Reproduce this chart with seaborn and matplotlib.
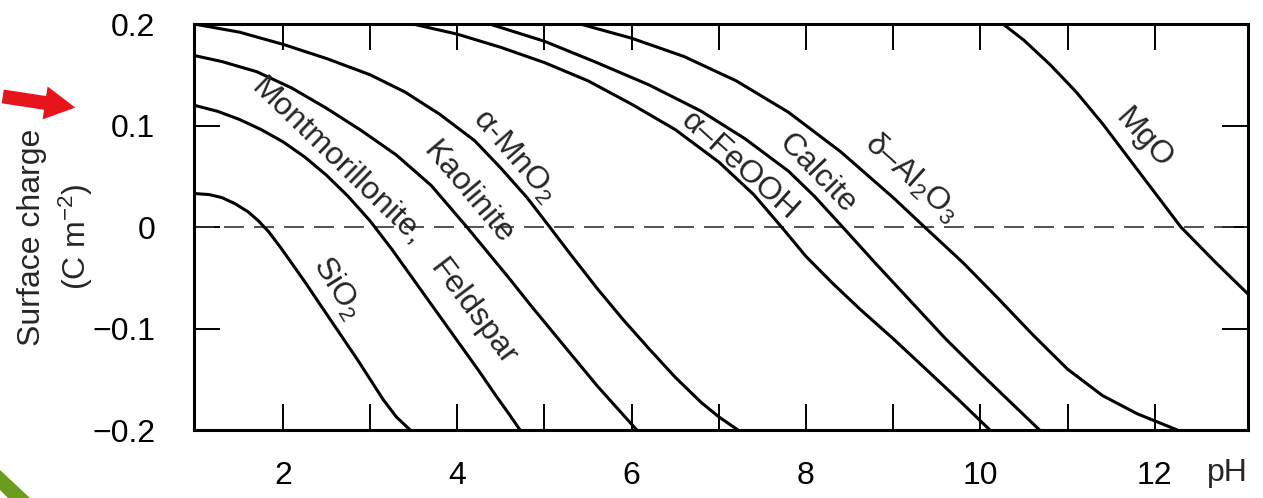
import numpy as np
import pandas as pd
import matplotlib
matplotlib.use("Agg")
import matplotlib.pyplot as plt
import seaborn as sns
from matplotlib.patches import FancyArrowPatch, Polygon
from matplotlib.transforms import IdentityTransform

# ----------------------------------------------------------
# Data (pH, surface charge in C m^-2)
# ----------------------------------------------------------
sio2_ph = [0.98, 1.15, 1.30, 1.45, 1.60, 1.72, 1.84, 1.98, 2.12, 2.26, 2.40, 2.55,
           2.70, 2.85, 3.00, 3.15, 3.30, 3.46]
sio2_q = [0.033, 0.032, 0.029, 0.023, 0.015, 0.006, -0.005, -0.021, -0.038, -0.055,
          -0.073, -0.092, -0.111, -0.130, -0.150, -0.170, -0.187, -0.200]

mont_ph = [0.98, 1.25, 1.50, 1.75, 2.00, 2.25, 2.50, 2.75, 3.00, 3.25, 3.50, 3.75,
           4.00, 4.25, 4.45, 4.60, 4.72]
mont_q = [0.120, 0.114, 0.106, 0.096, 0.084, 0.069, 0.051, 0.030, 0.006, -0.022,
          -0.052, -0.082, -0.112, -0.142, -0.167, -0.185, -0.200]

kaol_ph = [0.98, 1.30, 1.70, 2.10, 2.50, 2.90, 3.30, 3.70, 3.90, 4.11, 4.35, 4.60,
           4.85, 5.10, 5.35, 5.60, 5.85, 6.06]
kaol_q = [0.169, 0.163, 0.153, 0.137, 0.117, 0.095, 0.071, 0.041, 0.021, 0.0, -0.025,
          -0.051, -0.078, -0.104, -0.130, -0.156, -0.180, -0.200]

mno2_ph = [0.98, 1.50, 2.00, 2.50, 3.00, 3.40, 3.80, 4.20, 4.50, 4.80, 5.06, 5.30,
           5.60, 5.90, 6.20, 6.50, 6.80, 7.00, 7.22]
mno2_q = [0.200, 0.192, 0.180, 0.166, 0.150, 0.133, 0.111, 0.085, 0.058, 0.029, 0.0,
          -0.027, -0.060, -0.091, -0.120, -0.148, -0.173, -0.187, -0.200]

feooh_ph = [3.49, 4.00, 4.50, 5.00, 5.50, 6.00, 6.50, 7.00, 7.40, 7.72, 8.00, 8.30,
            8.62, 9.00, 9.40, 9.76, 10.11]
feooh_q = [0.200, 0.190, 0.177, 0.162, 0.144, 0.121, 0.096, 0.064, 0.032, 0.0, -0.029,
           -0.055, -0.081, -0.110, -0.142, -0.171, -0.200]

calcite_ph = [4.37, 5.00, 5.60, 6.20, 6.80, 7.30, 7.80, 8.10, 8.42, 8.80, 9.20, 9.60,
              10.00, 10.40, 10.68]
calcite_q = [0.200, 0.183, 0.162, 0.140, 0.114, 0.087, 0.055, 0.030, 0.0, -0.036,
             -0.073, -0.110, -0.144, -0.177, -0.200]

al2o3_ph = [5.41, 6.00, 6.60, 7.20, 7.80, 8.40, 9.00, 9.36, 9.80, 10.20, 10.60,
            11.00, 11.40, 11.80, 12.26]
al2o3_q = [0.200, 0.186, 0.168, 0.144, 0.113, 0.074, 0.029, 0.0, -0.035, -0.070,
           -0.106, -0.140, -0.166, -0.184, -0.200]

mgo_ph = [10.26, 10.50, 10.80, 11.10, 11.40, 11.70, 12.00, 12.30, 12.70, 13.07]
mgo_q = [0.200, 0.184, 0.160, 0.133, 0.102, 0.068, 0.034, 0.0, -0.035, -0.066]

x_ticks = list(range(2, 13))
x_tick_labels = ["2", "", "4", "", "6", "", "8", "", "10", "", "12"]
y_ticks = [-0.2, -0.1, 0.0, 0.1, 0.2]
y_tick_labels = ["\u22120.2", "\u22120.1", "0", "0.1", "0.2"]

curves = {
    "SiO2": (sio2_ph, sio2_q),
    "Montmorillonite": (mont_ph, mont_q),
    "Kaolinite": (kaol_ph, kaol_q),
    "MnO2": (mno2_ph, mno2_q),
    "FeOOH": (feooh_ph, feooh_q),
    "Calcite": (calcite_ph, calcite_q),
    "Al2O3": (al2o3_ph, al2o3_q),
    "MgO": (mgo_ph, mgo_q),
}

rows = []
for name, (ph, q) in curves.items():
    for a, b in zip(ph, q):
        rows.append({"mineral": name, "pH": a, "charge": b})
df = pd.DataFrame(rows)

# ----------------------------------------------------------
# Plot
# ----------------------------------------------------------
sns.set_theme(style="white")
plt.rcParams["font.family"] = ["Liberation Sans", "DejaVu Sans"]
plt.rcParams["mathtext.fontset"] = "custom"
plt.rcParams["mathtext.rm"] = "Liberation Sans"
plt.rcParams["mathtext.it"] = "Liberation Sans:italic"

fig = plt.figure(figsize=(12.63, 4.98), dpi=100)
ax = fig.add_axes([0.1536, 0.1365, 0.8345, 0.8153])

sns.lineplot(data=df, x="pH", y="charge", units="mineral", estimator=None,
             sort=False, color="black", linewidth=2.2, ax=ax)

ax.axhline(0, color="#333333", linewidth=1.2, dashes=(12, 6), zorder=1)

ax.set_xlim(0.98, 13.07)
ax.set_ylim(-0.2, 0.2)
ax.set_xticks(x_ticks)
ax.set_xticklabels(x_tick_labels)
ax.set_yticks(y_ticks)
ax.set_yticklabels(y_tick_labels)
ax.set_xlabel("")
ax.set_ylabel("")

ax.tick_params(axis="both", direction="in", top=True, right=True, bottom=True, left=True,
               length=19, width=1.4, labelsize=23, colors="black")
ax.tick_params(axis="x", pad=22)
ax.tick_params(axis="y", pad=28)
for s in ax.spines.values():
    s.set_linewidth(2.2)
    s.set_color("black")

# curve labels
label_kw = dict(ha="center", va="center", rotation_mode="anchor", fontsize=23)
ax.text(2.62, -0.060, "SiO$_2$", rotation=-58, **label_kw)
ax.text(2.62, 0.064, "Montmorillonite,", rotation=-44, **label_kw)
ax.text(4.18, -0.084, "Feldspar", rotation=-53, **label_kw)
ax.text(4.12, 0.034, "Kaolinite", rotation=-50, **label_kw)
ax.text(4.66, 0.070, "\u03b1-MnO$_2$", rotation=-49, **label_kw)
ax.text(7.24, 0.060, "\u03b1\u2013FeOOH", rotation=-42, **label_kw)
ax.text(8.13, 0.053, "Calcite", rotation=-46, **label_kw)
ax.text(9.22, 0.048, "\u03b4\u2013Al$_2$O$_3$", rotation=-42, **label_kw)
ax.text(11.87, 0.087, "MgO", rotation=-48, **label_kw)

ax.text(12.83, -0.106, "pH", transform=ax.get_xaxis_transform(),
        ha="center", va="center", fontsize=23)

fig.text(0.025, 0.524, "Surface charge", rotation=90, ha="center", va="center", fontsize=23)
fig.text(0.060, 0.524, "(C m$^{-2}$)", rotation=90, ha="center", va="center", fontsize=23)

# slide decorations: red arrow and green stripe
arrow = FancyArrowPatch((0, 498 - 96), (78, 498 - 108), transform=IdentityTransform(),
                        arrowstyle="simple,head_width=2.4,head_length=2.2,tail_width=1.0",
                        mutation_scale=10, color="#e8141c", linewidth=0)
fig.add_artist(arrow)
stripe = Polygon([(0, 498 - 470), (0, 498 - 490), (8, 0), (30, 0)], closed=True,
                 transform=IdentityTransform(), facecolor="#6b9c1e", edgecolor="none")
fig.add_artist(stripe)

fig.savefig("out.png", dpi=100, facecolor="white")
